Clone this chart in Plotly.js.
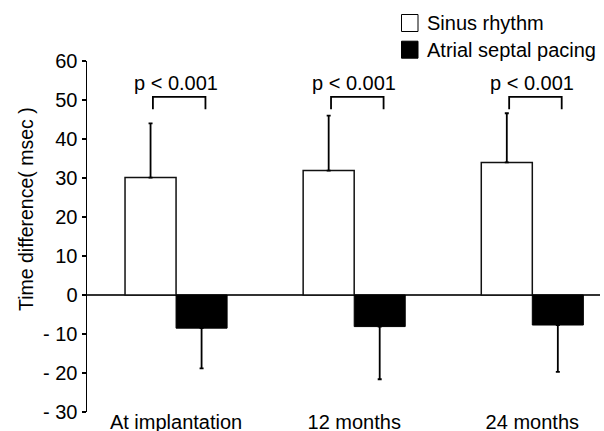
<!DOCTYPE html>
<html>
<head>
<meta charset="utf-8">
<script src="https://cdn.plot.ly/plotly-3.0.1.min.js"></script>
<style>html,body{margin:0;padding:0;background:#fff;}#chart{width:604px;height:431px;}</style>
</head>
<body>
<div id="chart"></div>
<script>
const categories = ["At implantation", "12 months", "24 months"];
const seriesNames = ["Sinus rhythm", "Atrial septal pacing"];
const sinusValues = [30.1, 31.9, 34.0];
const sinusErr = [13.9, 14.1, 12.6];
const pacingValues = [-8.5, -8.1, -7.7];
const pacingErr = [10.3, 13.5, 12.0];
const yTickVals = [-30, -20, -10, 0, 10, 20, 30, 40, 50, 60];
const yTickText = ["- 30", "- 20", "- 10", "0", "10", "20", "30", "40", "50", "60"];
const pLabels = ["p < 0.001", "p < 0.001", "p < 0.001"];
const bracketTop = 50.8;
const bracketBottom = 47.6;
const pLabelY = 54.4;

const FONT = "Arial, 'Liberation Sans', sans-serif";
const FS = 20;
const zeros = categories.map(() => 0);
const fills = ["#ffffff", "#000000"];

// layout geometry (pixels)
const W = 604, H = 431, ML = 87, MR = 4, MT = 61, MB = 5;
const PW = W - ML - MR, PH = H - MT - MB;
const px2x = p => (p - ML) / PW;
const py2y = p => (H - MB - p) / PH;

const traces = [
  {
    type: "bar", name: seriesNames[0], x: categories, y: sinusValues,
    marker: {color: fills[0], line: {color: "#111", width: 1.5}},
    error_y: {type: "data", symmetric: false, array: sinusErr, arrayminus: zeros,
              color: "#000", thickness: 1.8, width: 2}
  },
  {
    type: "bar", name: seriesNames[1], x: categories, y: pacingValues,
    marker: {color: fills[1], line: {color: "#000", width: 1}},
    error_y: {type: "data", symmetric: false, array: zeros, arrayminus: pacingErr,
              color: "#000", thickness: 1.8, width: 2}
  }
];

const shapes = [];
const annotations = [];
categories.forEach((c, i) => {
  const x0 = i - 0.13, x1 = i + 0.165;
  shapes.push({type: "path", xref: "x", yref: "y",
    path: `M ${x0} ${bracketBottom} L ${x0} ${bracketTop} L ${x1} ${bracketTop} L ${x1} ${bracketBottom}`,
    line: {color: "#000", width: 1.8}});
  annotations.push({xref: "x", yref: "y", x: i, y: pLabelY, text: pLabels[i],
    showarrow: false, font: {family: FONT, size: FS, color: "#000"}});
});

// legend (drawn as layout items so the swatches are the reference's size)
const legendRows = [23, 49.7];
seriesNames.forEach((n, k) => {
  const cy = legendRows[k];
  shapes.push({type: "rect", xref: "paper", yref: "paper",
    x0: px2x(401.5), x1: px2x(418), y0: py2y(cy - 8.5), y1: py2y(cy + 8.5),
    fillcolor: fills[k], line: {color: "#000", width: 1}});
  annotations.push({xref: "paper", yref: "paper", x: px2x(425), y: py2y(cy),
    xanchor: "left", yanchor: "middle", text: n, showarrow: false,
    font: {family: FONT, size: FS, color: "#000"}});
});

// y-axis title
annotations.push({xref: "paper", yref: "paper", x: px2x(26), y: py2y(209),
  xanchor: "center", yanchor: "middle", textangle: -90,
  text: "Time difference( msec )", showarrow: false,
  font: {family: FONT, size: 19.5, color: "#000"}});

const layout = {
  width: W, height: H,
  margin: {l: ML, r: MR, t: MT, b: MB},
  paper_bgcolor: "#fff", plot_bgcolor: "#fff",
  font: {family: FONT, size: FS, color: "#000"},
  barmode: "group", bargap: 0.427, bargroupgap: 0,
  showlegend: false,
  xaxis: {type: "category", range: [-0.5, 2.38], showline: false, ticks: "",
          showgrid: false, zeroline: false, anchor: "free", position: py2y(407.5),
          tickfont: {family: FONT, size: FS}},
  yaxis: {range: [-30, 60], domain: [py2y(412), 1], tickvals: yTickVals, ticktext: yTickText,
          showline: true, linecolor: "#000", linewidth: 1.5,
          ticks: "outside", ticklen: 4, tickwidth: 1.5, tickcolor: "#000",
          showgrid: false, zeroline: true, zerolinecolor: "#333", zerolinewidth: 1.5,
          tickfont: {family: FONT, size: FS}},
  shapes: shapes,
  annotations: annotations
};

Plotly.newPlot("chart", traces, layout, {displayModeBar: false, staticPlot: true});
</script>
</body>
</html>
